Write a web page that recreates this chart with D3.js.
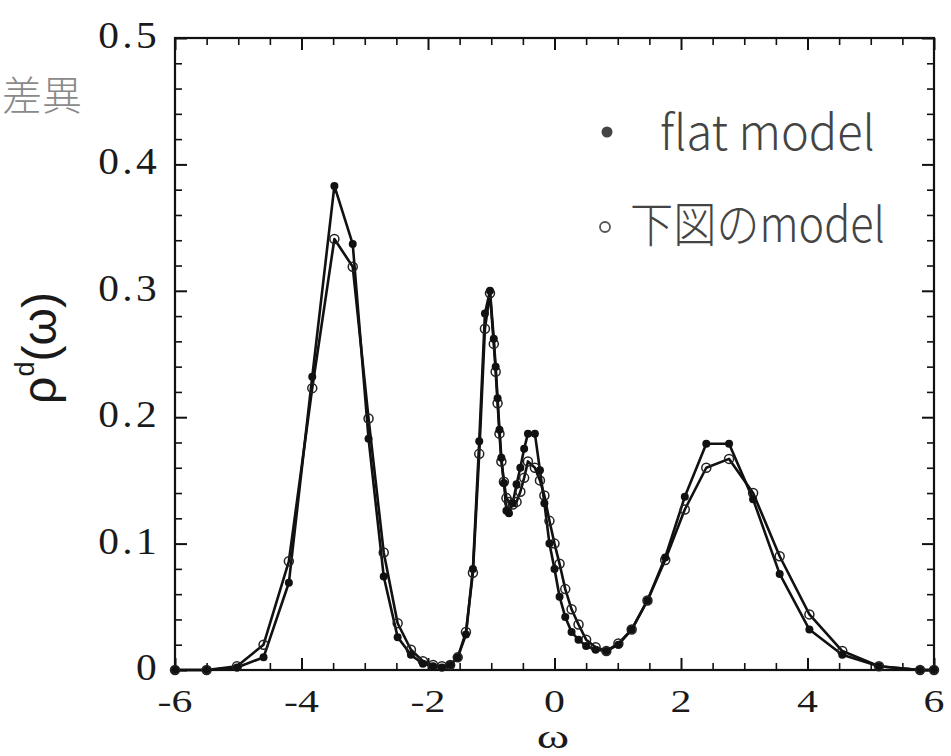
<!DOCTYPE html>
<html>
<head>
<meta charset="utf-8">
<script src="https://cdn.jsdelivr.net/npm/d3@7"></script>
<style>
  body { margin: 0; background: #fff; overflow: hidden; }
  svg { display: block; }
</style>
</head>
<body>
<div id="chart"></div>
<script>
// grid of omega values (same for both curves)
var omega = [-6.00, -5.50, -5.02, -4.60, -4.20, -3.83, -3.48, -3.19, -2.94, -2.70,
  -2.48, -2.27, -2.08, -1.92, -1.78, -1.65, -1.53, -1.40, -1.29, -1.19,
  -1.10, -1.02, -0.96, -0.93, -0.90, -0.87, -0.84, -0.80, -0.76, -0.72,
  -0.66, -0.60, -0.54, -0.48, -0.42, -0.31, -0.23, -0.16, -0.08, 0.00,
  0.08, 0.17, 0.27, 0.38, 0.50, 0.65, 0.82, 1.01, 1.22, 1.47,
  1.75, 2.06, 2.40, 2.76, 3.14, 3.56, 4.03, 4.55, 5.13, 5.78, 6.00];

// flat model (filled dots)
var rhoFlat = [0, 0, 0.002, 0.010, 0.069, 0.232, 0.383, 0.337, 0.183, 0.074,
  0.026, 0.012, 0.005, 0.003, 0.002, 0.004, 0.010, 0.028, 0.080, 0.181,
  0.282, 0.300, 0.262, 0.240, 0.215, 0.190, 0.168, 0.148, 0.126, 0.124,
  0.132, 0.147, 0.160, 0.175, 0.187, 0.187, 0.158, 0.132, 0.100, 0.080,
  0.058, 0.042, 0.030, 0.024, 0.019, 0.016, 0.015, 0.020, 0.032, 0.055,
  0.089, 0.137, 0.179, 0.179, 0.135, 0.076, 0.032, 0.012, 0.003, 0.000, 0.000];

// 下図の model (open circles)
var rhoFig = [0, 0, 0.003, 0.020, 0.086, 0.223, 0.341, 0.319, 0.199, 0.093,
  0.037, 0.016, 0.007, 0.004, 0.003, 0.004, 0.010, 0.030, 0.077, 0.171,
  0.270, 0.298, 0.258, 0.236, 0.211, 0.187, 0.165, 0.149, 0.136, 0.133,
  0.131, 0.133, 0.141, 0.152, 0.165, 0.160, 0.150, 0.138, 0.118, 0.100,
  0.084, 0.064, 0.048, 0.036, 0.024, 0.018, 0.015, 0.021, 0.032, 0.055,
  0.087, 0.127, 0.160, 0.167, 0.140, 0.090, 0.044, 0.015, 0.003, 0.000, 0.000];

var xTicks = [-6, -4, -2, 0, 2, 4, 6];
var xLabels = ["-6", "-4", "-2", "0", "2", "4", "6"];
var yTicks = [0, 0.1, 0.2, 0.3, 0.4, 0.5];
var yLabels = ["0", "0.1", "0.2", "0.3", "0.4", "0.5"];

var W = 951, H = 756;
var margin = { top: 38, right: 17, bottom: 86, left: 175 },
  width = W - margin.left - margin.right,
  height = H - margin.top - margin.bottom;

var svg = d3.select("#chart").append("svg")
  .attr("width", W).attr("height", H);

var g = svg.append("g")
  .attr("transform", "translate(" + margin.left + "," + margin.top + ")");

var x = d3.scaleLinear().domain([-6, 6]).range([0, width]);
var y = d3.scaleLinear().domain([0, 0.5]).range([height, 0]);

// minor tick positions
var xMinor = d3.range(-6, 6.001, 0.5).filter(function (v) { return Math.abs(v % 2) > 0.01; });
var yMinor = d3.range(0, 0.5001, 0.02).filter(function (v) { return Math.abs(Math.round(v * 100) % 10) > 0.5; });

function tickAxis(axis, vals, size, tr, sw) {
  var a = g.append("g")
    .attr("transform", tr)
    .call(axis.tickValues(vals).tickSize(size).tickFormat(""));
  a.select(".domain").remove();
  a.selectAll("line").attr("stroke", "#111").attr("stroke-width", sw);
}
// inward ticks on all four sides
tickAxis(d3.axisBottom(x), xTicks, -12, "translate(0," + height + ")", 2);
tickAxis(d3.axisBottom(x), xMinor, -7, "translate(0," + height + ")", 1.6);
tickAxis(d3.axisTop(x), xTicks, -12, "translate(0,0)", 2);
tickAxis(d3.axisTop(x), xMinor, -7, "translate(0,0)", 1.6);
tickAxis(d3.axisLeft(y), yTicks, -12, "translate(0,0)", 2);
tickAxis(d3.axisLeft(y), yMinor, -7, "translate(0,0)", 1.6);
tickAxis(d3.axisRight(y), yTicks, -12, "translate(" + width + ",0)", 2);
tickAxis(d3.axisRight(y), yMinor, -7, "translate(" + width + ",0)", 1.6);

// frame
g.append("rect")
  .attr("width", width).attr("height", height)
  .attr("fill", "none").attr("stroke", "#111").attr("stroke-width", 2.2);

// tick labels
g.selectAll(".xlab").data(xTicks).enter().append("text")
  .attr("class", "xlab")
  .attr("transform", function (d) { return "translate(" + x(d) + "," + (height + 42) + ") scale(1.35,1)"; })
  .attr("text-anchor", "middle")
  .style("font-family", "'Liberation Serif', serif")
  .style("font-size", "31px")
  .attr("fill", "#1a1a1a")
  .text(function (d, i) { return xLabels[i]; });

g.selectAll(".ylab").data(yTicks).enter().append("text")
  .attr("class", "ylab")
  .attr("transform", function (d) { return "translate(-15," + (y(d) + 10) + ") scale(1.12,1)"; })
  .attr("text-anchor", "end")
  .style("font-family", "'Liberation Serif', serif")
  .style("font-size", "37px")
  .style("letter-spacing", "3px")
  .attr("fill", "#1a1a1a")
  .text(function (d, i) { return yLabels[i]; });

// axis titles
svg.append("text")
  .attr("transform", "translate(553,748) scale(1.45,1)")
  .attr("text-anchor", "middle")
  .style("font-family", "'Liberation Serif', serif")
  .style("font-size", "34px")
  .attr("fill", "#1a1a1a")
  .text("ω");

var yt = svg.append("text")
  .attr("transform", "translate(56,348) rotate(-90)")
  .attr("text-anchor", "middle")
  .style("font-family", "'Liberation Sans', sans-serif")
  .style("font-size", "48px")
  .attr("fill", "#1a1a1a");
yt.append("tspan").text("ρ");
yt.append("tspan").attr("dy", -22).style("font-size", "27px").text("d");
yt.append("tspan").attr("dy", 22).text("(ω)");

// curves
var pts = function (vals) {
  return omega.map(function (w, i) { return { w: w, r: vals[i] }; });
};
var line = d3.line()
  .x(function (d) { return x(d.w); })
  .y(function (d) { return y(d.r); });

g.append("path").datum(pts(rhoFig))
  .attr("d", line).attr("fill", "none")
  .attr("stroke", "#111").attr("stroke-width", 2.6).attr("stroke-linejoin", "round");
g.append("path").datum(pts(rhoFlat))
  .attr("d", line).attr("fill", "none")
  .attr("stroke", "#111").attr("stroke-width", 2.6).attr("stroke-linejoin", "round");

g.selectAll(".dotFig").data(pts(rhoFig)).enter().append("circle")
  .attr("class", "dotFig")
  .attr("cx", function (d) { return x(d.w); })
  .attr("cy", function (d) { return y(d.r); })
  .attr("r", 4.5)
  .attr("fill", "none").attr("stroke", "#222").attr("stroke-width", 1.5);

g.selectAll(".dotFlat").data(pts(rhoFlat)).enter().append("circle")
  .attr("class", "dotFlat")
  .attr("cx", function (d) { return x(d.w); })
  .attr("cy", function (d) { return y(d.r); })
  .attr("r", 4)
  .attr("fill", "#111");

// handwritten notes
svg.append("text")
  .attr("x", 2).attr("y", 110)
  .style("font-family", "'Noto Sans CJK JP', sans-serif")
  .style("font-size", "40px")
  .style("font-weight", 300)
  .attr("fill", "#8a8a8a")
  .text("差異");

svg.append("circle").attr("cx", 607).attr("cy", 132).attr("r", 5.5).attr("fill", "#444");
svg.append("text")
  .attr("x", 660).attr("y", 150)
  .attr("textLength", 215).attr("lengthAdjust", "spacingAndGlyphs")
  .style("font-family", "'Noto Sans CJK JP', sans-serif")
  .style("font-size", "48px")
  .style("font-weight", 300)
  .attr("fill", "#444")
  .text("flat model");

svg.append("circle").attr("cx", 605).attr("cy", 227).attr("r", 5)
  .attr("fill", "none").attr("stroke", "#555").attr("stroke-width", 1.8);
svg.append("text")
  .attr("x", 630).attr("y", 242)
  .attr("textLength", 255).attr("lengthAdjust", "spacingAndGlyphs")
  .style("font-family", "'Noto Sans CJK JP', sans-serif")
  .style("font-size", "48px")
  .style("font-weight", 300)
  .attr("fill", "#444")
  .text("下図のmodel");
</script>
</body>
</html>
